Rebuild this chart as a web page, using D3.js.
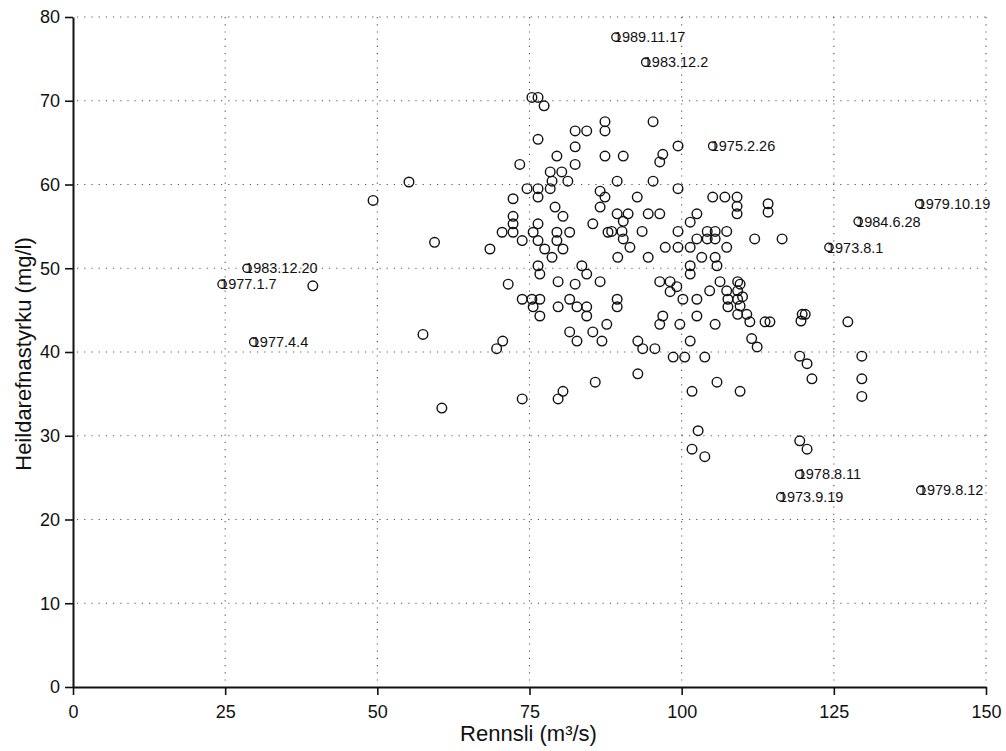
<!DOCTYPE html>
<html>
<head>
<meta charset="utf-8">
<script src="https://cdn.jsdelivr.net/npm/d3@7"></script>
<style>
  body { margin: 0; background: #fff; }
  svg { display: block; font-family: "Liberation Sans", Arial, Helvetica, sans-serif; }
</style>
</head>
<body>
<svg id="chart" width="1006" height="751"></svg>
<script>
// flow (m3/s) and total dissolved solids (mg/l), unlabeled samples
var flow = [
  39.4, 55.2, 49.3, 59.4, 57.5, 60.6,
  75.4, 76.4, 77.4, 76.4, 82.5, 84.4, 87.4, 87.4, 82.5, 79.5, 82.5, 87.4, 73.4, 78.4,
  80.3, 78.7, 81.3, 74.6, 76.4, 76.4, 78.4, 72.3, 79.2, 80.5, 86.6, 87.4, 86.6, 72.3,
  72.3, 70.5, 72.3, 68.5, 73.8, 76.4, 75.6, 76.4, 77.5, 78.7, 79.5, 79.5, 80.5, 81.6,
  85.4, 87.9, 76.4, 76.7, 71.5, 79.7, 82.5, 83.6, 84.4, 86.6, 73.8, 75.4, 76.7, 75.6,
  76.7, 79.7, 81.6, 82.8, 84.4, 84.4, 87.7, 81.6, 82.8, 85.4, 86.9, 69.6, 70.6, 73.8,
  79.7, 80.5, 85.8,
  95.3, 90.4, 99.4, 96.9, 96.4, 89.4, 95.3, 99.4, 92.7, 105.1, 107.1, 109.1, 109.1,
  109.1, 89.4, 91.2, 90.4, 94.5, 96.4, 102.5, 101.4, 88.5, 90.2, 90.4, 93.5, 99.4,
  104.2, 105.5, 107.4, 102.5, 104.2, 105.5, 107.4, 91.5, 97.3, 99.4, 101.4, 89.5, 94.5,
  103.3, 105.5, 105.8, 101.4, 101.4, 96.4, 98.1, 99.2, 98.1, 100.2, 102.5, 104.6, 106.3,
  107.4, 109.2, 109.2, 109.2, 107.6, 107.6, 109.2, 110.7, 89.4, 89.4, 96.9, 96.4, 99.7,
  102.5, 105.5, 92.8, 93.6, 95.6, 101.4, 98.6, 100.5, 103.8, 92.8, 105.8, 101.7, 109.6,
  109.6, 110.0, 109.6,
  114.2, 114.2, 112.0, 116.5, 111.2, 113.7, 114.5, 111.5, 112.4, 119.8, 119.6, 120.3,
  127.3, 119.4, 120.6, 121.4, 129.6, 129.6, 129.6,
  119.4, 120.6, 102.7, 101.7, 103.8
];
var conc = [
  47.9, 60.3, 58.1, 53.1, 42.1, 33.3,
  70.4, 70.4, 69.4, 65.4, 66.4, 66.4, 67.5, 66.4, 64.5, 63.4, 62.4, 63.4, 62.4, 61.5,
  61.5, 60.4, 60.4, 59.5, 59.5, 58.5, 59.5, 58.3, 57.3, 56.2, 59.2, 58.5, 57.3, 56.2,
  55.3, 54.3, 54.3, 52.3, 53.3, 55.3, 54.3, 53.3, 52.3, 51.3, 54.3, 53.3, 52.3, 54.3,
  55.3, 54.3, 50.3, 49.3, 48.1, 48.4, 48.1, 50.3, 49.3, 48.4, 46.3, 46.3, 46.3, 45.4,
  44.3, 45.4, 46.3, 45.4, 45.4, 44.3, 43.3, 42.4, 41.3, 42.4, 41.3, 40.4, 41.3, 34.4,
  34.4, 35.3, 36.4,
  67.5, 63.4, 64.6, 63.6, 62.7, 60.4, 60.4, 59.5, 58.5, 58.5, 58.5, 58.5, 57.4,
  56.5, 56.5, 56.5, 55.6, 56.5, 56.5, 56.5, 55.5, 54.4, 54.4, 53.5, 54.4, 54.4,
  54.4, 54.4, 54.4, 53.5, 53.5, 53.5, 52.5, 52.5, 52.5, 52.5, 52.5, 51.3, 51.3,
  51.3, 51.3, 50.3, 50.3, 49.3, 48.4, 48.4, 47.8, 47.2, 46.3, 46.3, 47.3, 48.4,
  47.3, 48.4, 47.3, 46.3, 46.3, 45.4, 44.5, 44.5, 46.3, 45.4, 44.3, 43.3, 43.3,
  44.3, 43.3, 41.3, 40.4, 40.4, 41.3, 39.4, 39.4, 39.4, 37.4, 36.4, 35.3, 35.3,
  48.1, 46.6, 45.5,
  57.7, 56.7, 53.5, 53.5, 43.6, 43.6, 43.6, 41.6, 40.6, 44.5, 43.7, 44.5,
  43.6, 39.5, 38.6, 36.8, 39.5, 36.8, 34.7,
  29.4, 28.4, 30.6, 28.4, 27.5
];

// labeled samples (date of sampling)
var labelNames = ["1989.11.17", "1983.12.2", "1975.2.26", "1979.10.19", "1984.6.28", "1973.8.1",
  "1983.12.20", "1977.1.7", "1977.4.4", "1978.8.11", "1973.9.19", "1979.8.12"];
var labelFlow = [89.2, 94.1, 105.1, 139.1, 129.0, 124.2, 28.6, 24.5, 29.7, 119.4, 116.3, 139.3];
var labelConc = [77.6, 74.6, 64.6, 57.7, 55.6, 52.5, 50.0, 48.1, 41.2, 25.4, 22.7, 23.5];

var xTicks = [0, 25, 50, 75, 100, 125, 150];
var yTicks = [0, 10, 20, 30, 40, 50, 60, 70, 80];

var margin = {left: 73, top: 17, right: 20, bottom: 64};
var width = 1006 - margin.left - margin.right;   // 913
var height = 751 - margin.top - margin.bottom;   // 670

var svg = d3.select("#chart");
var g = svg.append("g").attr("transform", "translate(" + margin.left + "," + margin.top + ")");

var x = d3.scaleLinear().domain([0, 150]).range([0, width]);
var y = d3.scaleLinear().domain([0, 80]).range([height, 0]);

// dotted grid
g.selectAll("line.hgrid")
  .data(yTicks.slice(1))
  .enter().append("line")
  .attr("class", "hgrid")
  .attr("x1", 4).attr("x2", width)
  .attr("y1", function (d) { return y(d); })
  .attr("y2", function (d) { return y(d); })
  .attr("stroke", "#555").attr("stroke-width", 1.1)
  .attr("stroke-dasharray", "1.2,6");

g.selectAll("line.vgrid")
  .data(xTicks.slice(1))
  .enter().append("line")
  .attr("class", "vgrid")
  .attr("x1", function (d) { return x(d); })
  .attr("x2", function (d) { return x(d); })
  .attr("y1", 0).attr("y2", height - 4)
  .attr("stroke", "#555").attr("stroke-width", 1.1)
  .attr("stroke-dasharray", "1.2,6");

// axes
var xAxis = g.append("g")
  .attr("transform", "translate(0," + height + ")")
  .call(d3.axisBottom(x).tickValues(xTicks).tickSize(8).tickPadding(10).tickSizeOuter(0));
var yAxis = g.append("g")
  .call(d3.axisLeft(y).tickValues(yTicks).tickSize(8).tickPadding(5).tickSizeOuter(0));

[xAxis, yAxis].forEach(function (ax) {
  ax.select(".domain").attr("stroke", "#111").attr("stroke-width", 2);
  ax.selectAll(".tick line").attr("stroke", "#111").attr("stroke-width", 1.6);
  ax.selectAll(".tick text")
    .attr("fill", "#111")
    .style("font-size", "18px")
    .style("font-family", "'Liberation Sans', Arial, sans-serif");
});

// axis titles
svg.append("text")
  .attr("x", margin.left + x(75) - 1)
  .attr("y", 741)
  .attr("text-anchor", "middle")
  .attr("fill", "#111")
  .style("font-size", "22px")
  .text("Rennsli (m\u00b3/s)");

svg.append("text")
  .attr("transform", "translate(31," + 354 + ") rotate(-90)")
  .attr("text-anchor", "middle")
  .attr("fill", "#111")
  .style("font-size", "22px")
  .text("Heildarefnastyrku (mg/l)");

// points
g.selectAll("circle.pt")
  .data(d3.range(flow.length))
  .enter().append("circle")
  .attr("class", "pt")
  .attr("cx", function (i) { return x(flow[i]); })
  .attr("cy", function (i) { return y(conc[i]); })
  .attr("r", 4.8)
  .attr("fill", "none")
  .attr("stroke", "#111")
  .attr("stroke-width", 1.4);

// labeled points
var lab = g.selectAll("g.lab")
  .data(d3.range(labelNames.length))
  .enter().append("g")
  .attr("class", "lab");

lab.append("text")
  .attr("x", function (i) { return x(labelFlow[i]) - 2; })
  .attr("y", function (i) { return y(labelConc[i]); })
  .attr("dy", "0.36em")
  .attr("fill", "#111")
  .style("font-size", "14.5px")
  .text(function (i) { return labelNames[i]; });

lab.append("circle")
  .attr("cx", function (i) { return x(labelFlow[i]); })
  .attr("cy", function (i) { return y(labelConc[i]); })
  .attr("r", 4.2)
  .attr("fill", "none")
  .attr("stroke", "#111")
  .attr("stroke-width", 1.3);
</script>
</body>
</html>
